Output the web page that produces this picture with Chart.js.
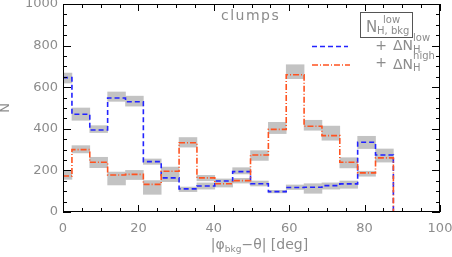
<!DOCTYPE html>
<html>
<head>
<meta charset="utf-8">
<script src="https://cdn.jsdelivr.net/npm/chart.js@4.4.1/dist/chart.umd.min.js"></script>
<style>
	html, body { margin: 0; padding: 0; background: #ffffff; }
	#clumpsContainer { width: 452px; height: 257px; }
</style>
</head>
<body>
<div id="clumpsContainer"><canvas id="myChartClumps" width="452" height="257"></canvas></div>
<script>
// bin centres of |phi_bkg - theta| in degrees
var binCenters = [0, 4.74, 9.47, 14.21, 18.95, 23.68, 28.42, 33.16, 37.89, 42.63,
	47.37, 52.11, 56.84, 61.58, 66.32, 71.05, 75.79, 80.53, 85.26, 90];

// N_H,bkg^low + dN_H^low (blue, dashed)
var lowValues = [646, 470, 394, 548, 530, 242, 164, 111, 125, 149,
	194, 136, 98, 118, 119, 127, 135, 335, 274, 0];
var lowBandLo = [620, 441, 382, 532, 509, 229, 146, 98, 110, 138,
	183, 125, 92, 108, 90, 110, 114, 305, 250, 0];
var lowBandHi = [668, 500, 415, 577, 557, 255, 180, 120, 140, 159,
	213, 149, 104, 130, 136, 140, 149, 364, 303, 0];

// N_H,bkg^low + dN_H^high (orange, dash-dot)
var highValues = [173, 300, 239, 178, 181, 133, 196, 333, 164, 136,
	151, 274, 397, 660, 412, 367, 239, 188, 260, 0];
var highBandLo = [157, 284, 213, 130, 156, 85, 178, 312, 150, 120,
	139, 248, 377, 641, 393, 345, 212, 172, 240, 0];
var highBandHi = [200, 319, 263, 192, 200, 151, 216, 358, 176, 150,
	162, 295, 431, 708, 441, 413, 261, 196, 280, 0];

var xTicks = [0, 20, 40, 60, 80, 100];
var yTicks = [0, 200, 400, 600, 800, 1000];

var textGrey = "#8c8c8c";
var fontFamily = "'DejaVu Sans', sans-serif";
var blueColor = "#2323ff";
var orangeColor = "#ff5320";
var bandColor = "#c3c3c3";
var blueDash = [5, 3];
var orangeDash = [6, 2, 1, 2];

function points(values) {
	return binCenters.map(function (x, i) {
		return { x: x, y: values[i] };
	});
}

function band(lo, hi) {
	return binCenters.map(function (x, i) {
		return { x: x, y: [lo[i], hi[i]] };
	});
}

// axis box with inward ticks on all four sides
var framePlugin = {
	id: "frame",
	afterDatasetsDraw: function (chart) {
		var ctx = chart.ctx;
		var a = chart.chartArea;
		var xs = chart.scales.x;
		var ys = chart.scales.y;
		ctx.save();
		ctx.strokeStyle = "#000000";
		ctx.lineWidth = 1;
		ctx.strokeRect(a.left + 0.5, a.top + 0.5, a.right - a.left - 1, a.bottom - a.top - 1);
		ctx.beginPath();
		for (var v = 0; v <= 100; v += 5) {
			var px = Math.round(xs.getPixelForValue(v)) + 0.5;
			var len = v % 20 == 0 ? 7 : 4;
			ctx.moveTo(px, a.bottom);
			ctx.lineTo(px, a.bottom - len);
			ctx.moveTo(px, a.top);
			ctx.lineTo(px, a.top + len);
		}
		for (var w = 0; w <= 1000; w += 50) {
			var py = Math.round(ys.getPixelForValue(w)) + 0.5;
			var len2 = w % 200 == 0 ? 8 : 4;
			ctx.moveTo(a.left, py);
			ctx.lineTo(a.left + len2, py);
			ctx.moveTo(a.right, py);
			ctx.lineTo(a.right - len2, py);
		}
		ctx.stroke();
		ctx.restore();
	},
};

function txt(ctx, s, x, y, size, align) {
	ctx.font = size + "px " + fontFamily;
	ctx.textAlign = align || "left";
	ctx.fillText(s, x, y);
	return ctx.measureText(s).width;
}

// "clumps" label, legend box and x axis title with subscripts
var annotatePlugin = {
	id: "annotate",
	afterDraw: function (chart) {
		var ctx = chart.ctx;
		ctx.save();
		ctx.fillStyle = textGrey;
		ctx.textBaseline = "alphabetic";

		ctx.letterSpacing = "1.5px";
		txt(ctx, "clumps", 221, 20, 14);
		ctx.letterSpacing = "0px";

		// legend header
		ctx.strokeStyle = "#555555";
		ctx.lineWidth = 1;
		ctx.strokeRect(360.5, 12.5, 52, 25);
		txt(ctx, "N", 366, 31.5, 15);
		txt(ctx, "low", 383, 22.5, 10);
		txt(ctx, "H, bkg", 377, 34, 10);

		// legend rows
		ctx.lineWidth = 1.6;
		ctx.strokeStyle = blueColor;
		ctx.setLineDash(blueDash);
		ctx.beginPath();
		ctx.moveTo(312, 46.5);
		ctx.lineTo(348, 46.5);
		ctx.stroke();
		ctx.strokeStyle = orangeColor;
		ctx.setLineDash(orangeDash);
		ctx.beginPath();
		ctx.moveTo(312, 65);
		ctx.lineTo(350, 65);
		ctx.stroke();
		ctx.setLineDash([]);

		txt(ctx, "+", 381, 49.5, 14, "center");
		var w1 = txt(ctx, "\u0394N", 393, 50, 14);
		txt(ctx, "low", 393 + w1, 41, 10);
		txt(ctx, "H", 393 + w1, 52.5, 10);

		txt(ctx, "+", 381, 67, 14, "center");
		var w2 = txt(ctx, "\u0394N", 393, 68.5, 14);
		txt(ctx, "high", 393 + w2, 59, 10);
		txt(ctx, "H", 393 + w2, 71, 10);

		// x axis title: |phi_bkg - theta| [deg]
		ctx.font = "14px " + fontFamily;
		var a1 = ctx.measureText("|\u03c6").width;
		var a3 = ctx.measureText("\u2212\u03b8| [deg]").width;
		ctx.font = "9px " + fontFamily;
		var a2 = ctx.measureText("bkg").width;
		var x0 = 259.5 - (a1 + a2 + a3) / 2;
		txt(ctx, "|\u03c6", x0, 249, 14);
		txt(ctx, "bkg", x0 + a1, 252, 9);
		txt(ctx, "\u2212\u03b8| [deg]", x0 + a1 + a2, 249, 14);
		ctx.restore();
	},
};

var ctx = document.getElementById("myChartClumps").getContext("2d");
var myChart = new Chart(ctx, {
	type: "line",
	data: {
		datasets: [
			{
				label: "high",
				data: points(highValues),
				borderColor: orangeColor,
				borderWidth: 1.6,
				borderDash: orangeDash,
				stepped: "middle",
				pointRadius: 0,
				fill: false,
				order: 0,
			},
			{
				label: "low",
				data: points(lowValues),
				borderColor: blueColor,
				borderWidth: 1.6,
				borderDash: blueDash,
				stepped: "middle",
				pointRadius: 0,
				fill: false,
				order: 1,
			},
			{
				type: "bar",
				label: "high band",
				data: band(highBandLo, highBandHi),
				backgroundColor: bandColor,
				borderWidth: 0,
				barPercentage: 1,
				categoryPercentage: 1,
				grouped: false,
				clip: 0,
				order: 2,
			},
			{
				type: "bar",
				label: "low band",
				data: band(lowBandLo, lowBandHi),
				backgroundColor: bandColor,
				borderWidth: 0,
				barPercentage: 1,
				categoryPercentage: 1,
				grouped: false,
				clip: 0,
				order: 3,
			},
		],
	},
	options: {
		responsive: false,
		animation: false,
		events: [],
		layout: {
			padding: { top: 4, right: 12, left: 0, bottom: 0 },
		},
		scales: {
			x: {
				type: "linear",
				min: 0,
				max: 100,
				offset: false,
				grid: { display: false, drawTicks: false },
				border: { display: false },
				afterBuildTicks: function (s) {
					s.ticks = xTicks.map(function (v) { return { value: v }; });
				},
				afterFit: function (s) {
					s.height = 45;
					s.paddingLeft = 0;
					s.paddingRight = 0;
				},
				ticks: {
					color: textGrey,
					padding: 9,
					maxRotation: 0,
					font: { family: fontFamily, size: 13 },
					callback: function (v) { return String(v); },
				},
			},
			y: {
				type: "linear",
				min: 0,
				max: 1000,
				grid: { display: false, drawTicks: false },
				border: { display: false },
				afterBuildTicks: function (s) {
					s.ticks = yTicks.map(function (v) { return { value: v }; });
				},
				afterFit: function (s) {
					s.width = 63;
					s.paddingTop = 0;
					s.paddingBottom = 0;
				},
				ticks: {
					color: textGrey,
					padding: 5,
					font: { family: fontFamily, size: 13 },
					callback: function (v) { return String(v); },
				},
				title: {
					display: true,
					text: "N",
					color: textGrey,
					padding: 0,
					font: { family: fontFamily, size: 13, lineHeight: 0.8 },
				},
			},
		},
		plugins: {
			legend: { display: false },
			tooltip: { enabled: false },
		},
	},
	plugins: [framePlugin, annotatePlugin],
});
</script>
</body>
</html>
